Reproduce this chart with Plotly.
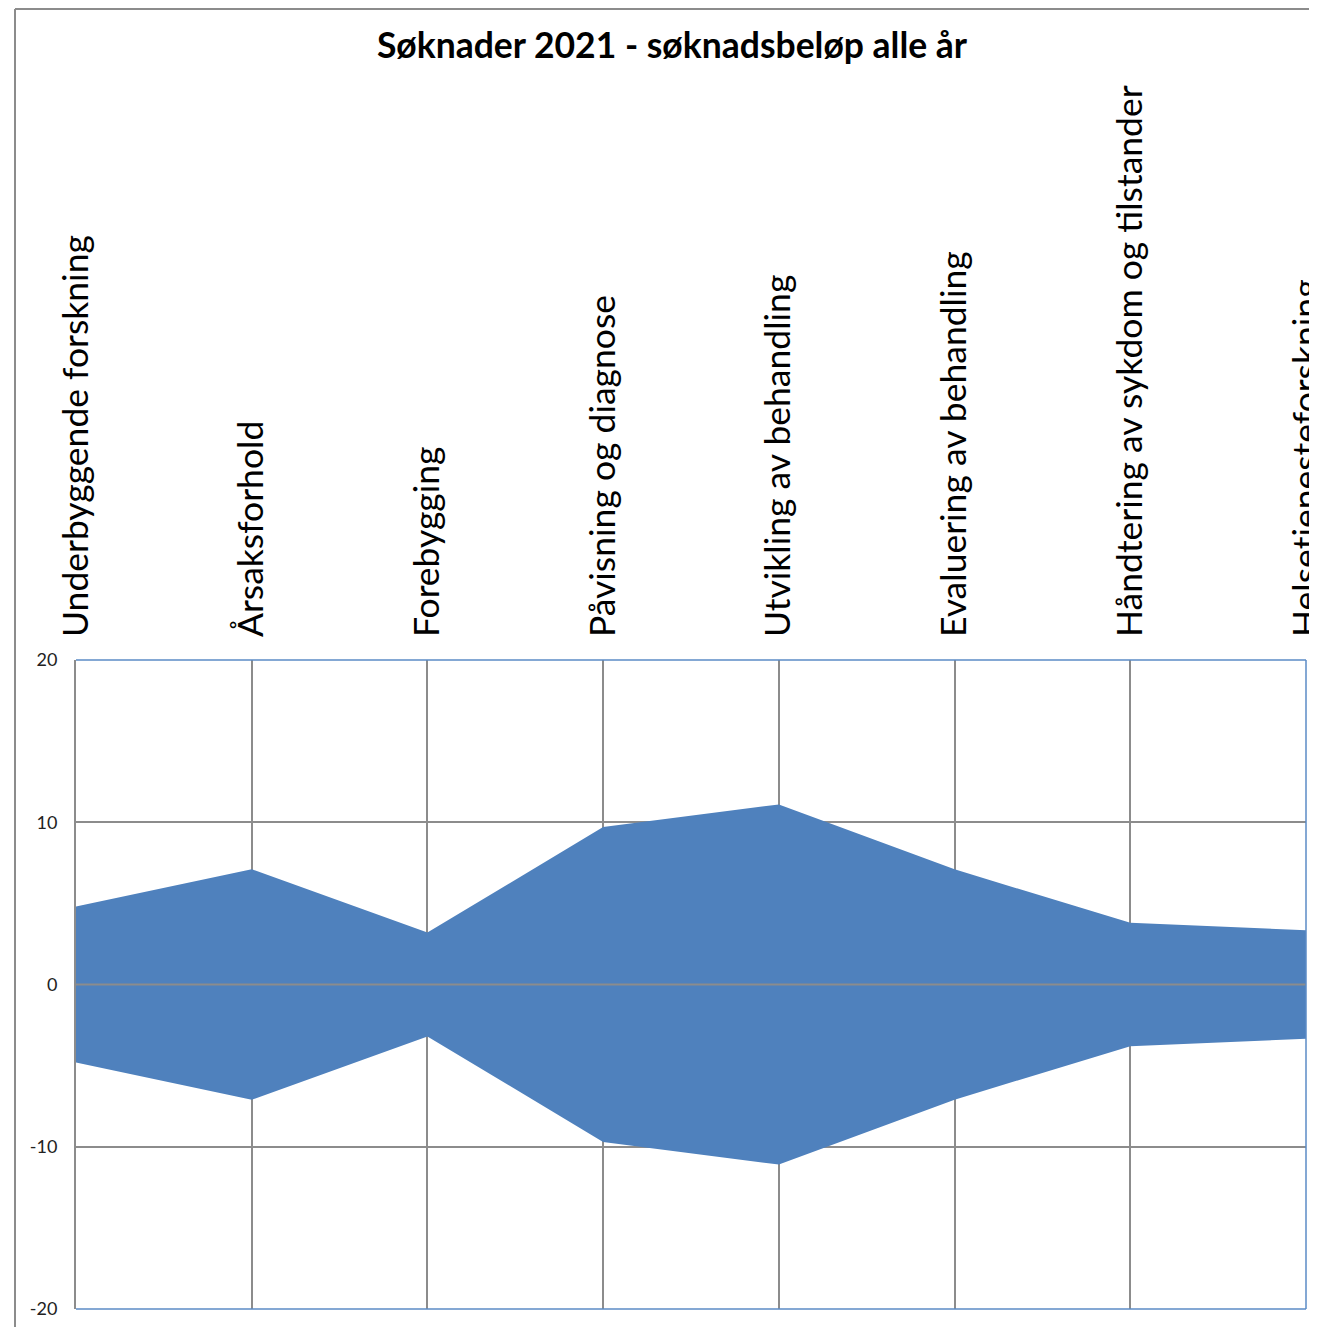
import plotly.graph_objects as go

categories = [
    "Underbyggende forskning",
    "Årsaksforhold",
    "Forebygging",
    "Påvisning og diagnose",
    "Utvikling av behandling",
    "Evaluering av behandling",
    "Håndtering av sykdom og tilstander",
    "Helsetjenesteforskning",
]
values = [4.8, 7.1, 3.2, 9.7, 11.1, 7.1, 3.8, 3.35]
y_ticks = [-20, -10, 0, 10, 20]
y_tick_labels = ["-20", "-10", "0", "10", "20"]
title_text = "Søknader 2021 - søknadsbeløp alle år"

# page has an 8px body margin; figure sized so the plot lands where the reference has it
OFF = 8
W, H = 1317 - OFF, 1327 - OFF
ML, MR, MT, MB = 76 - OFF, 11, 660 - OFF, 18
PW, PH = W - ML - MR, H - MT - MB

xs = list(range(len(categories)))
poly_x = xs + xs[::-1]
poly_y = values + [-v for v in values[::-1]]

fig = go.Figure()
fig.add_trace(go.Scatter(
    x=poly_x, y=poly_y, fill="toself", mode="lines",
    line=dict(width=0, color="#4F81BD"), fillcolor="#4F81BD",
    hoverinfo="skip", showlegend=False,
))

def px_x(p):
    return (p - OFF - ML) / PW

def px_y(p):
    return 1 - (p - OFF - MT) / PH

BLUE = "#5B8BC6"
GRAY = "#8C8C8C"
shapes = [
    # zero axis line above the area
    dict(type="line", xref="paper", yref="y", x0=0, x1=1, y0=0, y1=0,
         line=dict(color=GRAY, width=2), layer="above"),
    # plot-area border (top, right, bottom)
    dict(type="line", xref="paper", yref="paper", x0=0, x1=1, y0=1, y1=1,
         line=dict(color=BLUE, width=1.5), layer="above"),
    dict(type="line", xref="paper", yref="paper", x0=1, x1=1, y0=0, y1=1,
         line=dict(color=BLUE, width=1.5), layer="above"),
    dict(type="line", xref="paper", yref="paper", x0=0, x1=1, y0=0, y1=0,
         line=dict(color=BLUE, width=1.5), layer="above"),
    # outer chart border (left and top)
    dict(type="line", xref="paper", yref="paper", x0=px_x(15), x1=px_x(15),
         y0=px_y(9), y1=px_y(1340), line=dict(color=GRAY, width=2)),
    dict(type="line", xref="paper", yref="paper", x0=px_x(15), x1=px_x(1340),
         y0=px_y(9), y1=px_y(9), line=dict(color=GRAY, width=2)),
]

fig.update_layout(
    width=W, height=H,
    margin=dict(l=ML, r=MR, t=MT, b=MB, autoexpand=False),
    paper_bgcolor="white", plot_bgcolor="white",
    showlegend=False,
    title=dict(text=title_text, x=(672 - OFF) / W, xanchor="center",
               y=1 - (46 - OFF) / H, yanchor="middle", yref="container",
               font=dict(family="Lato", size=35.5, color="black", weight="bold")),
    shapes=shapes,
    xaxis=dict(
        side="top", range=[0, len(categories) - 1],
        tickmode="array", tickvals=xs, ticktext=categories,
        tickangle=-90, tickfont=dict(family="Lato", size=35.5, color="black"),
        showgrid=True, gridcolor=GRAY, gridwidth=2,
        zeroline=False, showline=False, ticks="",
        ticklabelstandoff=22, ticklabeloverflow="allow", automargin=False,
    ),
    yaxis=dict(
        range=[-20, 20], tickmode="array", tickvals=y_ticks, ticktext=y_tick_labels,
        tickfont=dict(family="Lato", size=18, color="#222222"),
        showgrid=True, gridcolor=GRAY, gridwidth=2,
        zeroline=False, showline=True, linecolor=GRAY, linewidth=2,
        ticks="", ticklabelstandoff=13, automargin=False,
    ),
)

fig.write_html("out.html")
